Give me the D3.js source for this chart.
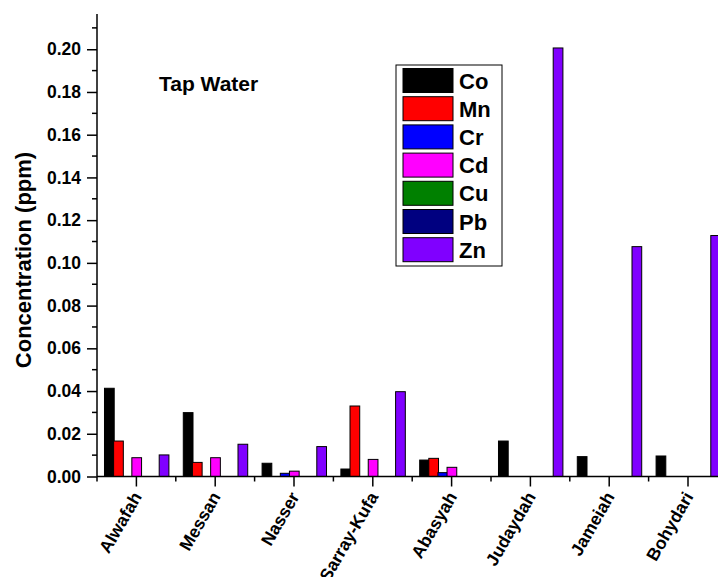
<!DOCTYPE html>
<html>
<head>
<meta charset="utf-8">
<script src="https://cdn.jsdelivr.net/npm/d3@7"></script>
<style>
  body { margin: 0; background: #fff; }
  text { font-family: "Liberation Sans", Arial, sans-serif; font-weight: bold; }
</style>
</head>
<body>
<div id="chart"></div>
<script>
// sites along the x axis
const sites = ["Alwafah", "Messan", "Nasser", "Sarray-Kufa", "Abasyah", "Judaydah", "Jameiah", "Bohydari"];

// metals, in the order they are drawn inside each group
const metals = ["Co", "Mn", "Cr", "Cd", "Cu", "Pb", "Zn"];
const metalColors = ["#000000", "#ff0000", "#0000ff", "#ff00ff", "#008000", "#000080", "#8000ff"];

// concentrations (ppm) per metal, one value per site
const Co = [0.0413, 0.0299, 0.0062, 0.0035, 0.0077, 0.0166, 0.0093, 0.0096];
const Mn = [0.0166, 0.0066, 0, 0.0330, 0.0085, 0, 0, 0];
const Cr = [0, 0, 0.0015, 0, 0.0018, 0, 0, 0];
const Cd = [0.0088, 0.0088, 0.0025, 0.0080, 0.0043, 0, 0, 0];
const Cu = [0, 0, 0, 0, 0, 0, 0, 0];
const Pb = [0, 0, 0, 0, 0, 0, 0, 0];
const Zn = [0.0101, 0.0151, 0.0140, 0.0397, 0, 0.2006, 0.1076, 0.1128];

const yTicks = [0, 0.02, 0.04, 0.06, 0.08, 0.10, 0.12, 0.14, 0.16, 0.18, 0.20];
const yMinorTicks = [0.01, 0.03, 0.05, 0.07, 0.09, 0.11, 0.13, 0.15, 0.17, 0.19, 0.21];

const series = { Co: Co, Mn: Mn, Cr: Cr, Cd: Cd, Cu: Cu, Pb: Pb, Zn: Zn };

const width = 718, height = 577;
const plotLeft = 97, plotBottom = 476.5, plotTop = 14;
const step = 78.8;

const svg = d3.select("#chart").append("svg")
  .attr("width", width)
  .attr("height", height);

svg.append("rect").attr("width", width).attr("height", height).attr("fill", "#fff");

// scales
const x0 = d3.scaleBand()
  .domain(sites)
  .range([plotLeft, plotLeft + step * sites.length])
  .paddingInner(0.19)
  .paddingOuter(0.095);

const x1 = d3.scaleBand()
  .domain(metals)
  .range([0, x0.bandwidth()]);

const y = d3.scaleLinear()
  .domain([0, 0.2165])
  .range([plotBottom, plotTop]);

const color = d3.scaleOrdinal().domain(metals).range(metalColors);

// bars (zero values are not drawn)
const groups = svg.append("g").selectAll("g")
  .data(sites)
  .join("g")
  .attr("transform", d => `translate(${x0(d)},0)`);

groups.selectAll("rect")
  .data((site, i) => metals.map(m => ({ metal: m, value: series[m][i] })).filter(d => d.value > 0))
  .join("rect")
  .attr("x", d => x1(d.metal))
  .attr("y", d => y(d.value))
  .attr("width", x1.bandwidth() + 0.6)
  .attr("height", d => plotBottom - y(d.value))
  .attr("fill", d => color(d.metal))
  .attr("stroke", "#000")
  .attr("stroke-width", 1);

// y axis
const yAxis = svg.append("g").attr("transform", `translate(${plotLeft},0)`);
yAxis.append("line")
  .attr("x1", 0).attr("x2", 0)
  .attr("y1", plotTop).attr("y2", plotBottom)
  .attr("stroke", "#000").attr("stroke-width", 1.5);

yAxis.call(d3.axisLeft(y).tickValues(yTicks).tickFormat(d3.format(".2f")).tickSize(10).tickPadding(6))
  .call(g => g.select(".domain").remove())
  .call(g => g.selectAll(".tick line").attr("stroke-width", 1.5))
  .call(g => g.selectAll(".tick text").attr("font-size", 17.5).attr("font-family", null).attr("fill", "#000"));

yAxis.selectAll(".minor")
  .data(yMinorTicks)
  .join("line")
  .attr("class", "minor")
  .attr("x1", -5).attr("x2", 0)
  .attr("y1", d => y(d)).attr("y2", d => y(d))
  .attr("stroke", "#000").attr("stroke-width", 1.5);

// x axis
const xAxis = svg.append("g").attr("transform", `translate(0,${plotBottom})`);
xAxis.append("line")
  .attr("x1", plotLeft).attr("x2", width)
  .attr("stroke", "#000").attr("stroke-width", 1.5);

xAxis.selectAll(".major")
  .data(sites)
  .join("line")
  .attr("class", "major")
  .attr("x1", d => x0(d) + x0.bandwidth() / 2)
  .attr("x2", d => x0(d) + x0.bandwidth() / 2)
  .attr("y1", 0).attr("y2", 10)
  .attr("stroke", "#000").attr("stroke-width", 1.5);

xAxis.selectAll(".minor")
  .data(sites)
  .join("line")
  .attr("class", "minor")
  .attr("x1", (d, i) => plotLeft + step * i)
  .attr("x2", (d, i) => plotLeft + step * i)
  .attr("y1", 0).attr("y2", 5)
  .attr("stroke", "#000").attr("stroke-width", 1.5);

xAxis.selectAll(".label")
  .data(sites)
  .join("text")
  .attr("class", "label")
  .attr("text-anchor", "end")
  .attr("font-size", 17.5)
  .attr("transform", d => `translate(${x0(d) + x0.bandwidth() / 2 + 6},${20}) rotate(-60)`)
  .text(d => d);

// axis title and chart label
svg.append("text")
  .attr("transform", "translate(31,260) rotate(-90)")
  .attr("text-anchor", "middle")
  .attr("font-size", 22)
  .text("Concentration (ppm)");

svg.append("text")
  .attr("x", 159).attr("y", 91)
  .attr("font-size", 21)
  .text("Tap Water");

// legend
const legend = svg.append("g").attr("transform", "translate(396,65)");
legend.append("rect")
  .attr("width", 106).attr("height", 201)
  .attr("fill", "#fff").attr("stroke", "#000").attr("stroke-width", 1);

const items = legend.selectAll(".item")
  .data(metals)
  .join("g")
  .attr("class", "item")
  .attr("transform", (d, i) => `translate(7,${3.5 + i * 28.2})`);

items.append("rect")
  .attr("width", 50).attr("height", 24)
  .attr("fill", d => color(d))
  .attr("stroke", "#000").attr("stroke-width", 1);

items.append("text")
  .attr("x", 56).attr("y", 20)
  .attr("font-size", 22)
  .text(d => d);
</script>
</body>
</html>
